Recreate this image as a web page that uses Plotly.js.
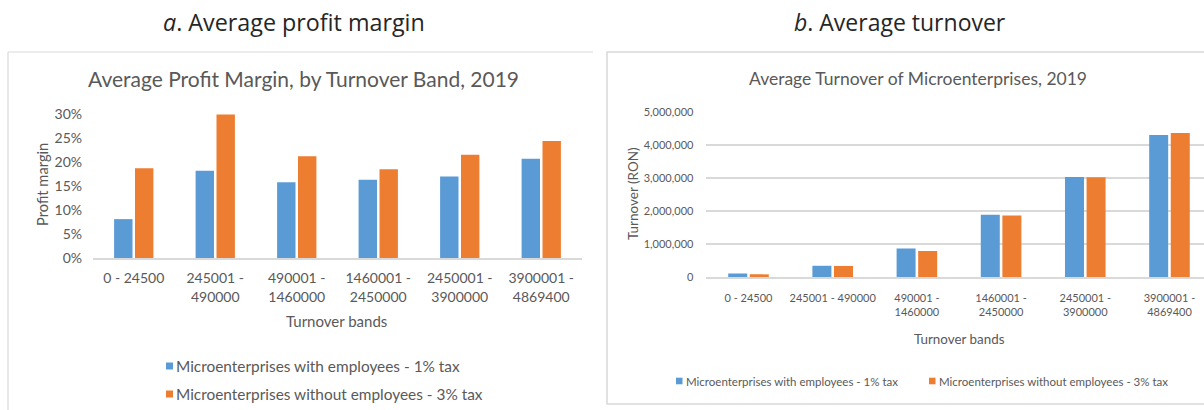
<!DOCTYPE html>
<html>
<head>
<meta charset="utf-8">
<script src="https://cdn.plot.ly/plotly-3.0.1.min.js"></script>
<style>
  html, body { margin: 0; padding: 0; background: #ffffff; }
  #chart { width: 1204px; height: 410px; }
</style>
</head>
<body>
<div id="chart"></div>
<script>
// ---------- data ----------
const bandsMargin = ["0 - 24500", "245001 -<br>490000", "490001 -<br>1460000", "1460001 -<br>2450000", "2450001 -<br>3900000", "3900001 -<br>4869400"];
const bandsTurnover = ["0 - 24500", "245001 - 490000", "490001 -<br>1460000", "1460001 -<br>2450000", "2450001 -<br>3900000", "3900001 -<br>4869400"];
const seriesNames = ["Microenterprises with employees - 1% tax", "Microenterprises without employees - 3% tax"];
const marginWithEmployees = [0.081, 0.182, 0.158, 0.163, 0.170, 0.207];
const marginWithoutEmployees = [0.187, 0.299, 0.212, 0.185, 0.215, 0.244];
const turnoverWithEmployees = [105000, 340000, 860000, 1890000, 3030000, 4300000];
const turnoverWithoutEmployees = [80000, 335000, 790000, 1860000, 3020000, 4360000];
const marginTicks = [0, 0.05, 0.10, 0.15, 0.20, 0.25, 0.30];
const turnoverTicks = [0, 1000000, 2000000, 3000000, 4000000, 5000000];

// ---------- layout helpers ----------
const W = 1204, H = 410;
const px = x => x / W;
const py = y => 1 - y / H;
const BLUE = "#5B9BD5", ORANGE = "#ED7D31";
const COLORS = [BLUE, ORANGE];
const GREY = "#595959", LINE = "#D9D9D9";
const FONT = "Lato, 'Open Sans', sans-serif";
const HFONT = "'Open Sans', Lato, sans-serif";

const idxM = bandsMargin.map((_, i) => i);
const idxT = bandsTurnover.map((_, i) => i);

const traces = [
  { type: "bar", x: idxM, y: marginWithEmployees, name: seriesNames[0], marker: { color: BLUE }, xaxis: "x", yaxis: "y", showlegend: false, hoverinfo: "skip" },
  { type: "bar", x: idxM, y: marginWithoutEmployees, name: seriesNames[1], marker: { color: ORANGE }, xaxis: "x", yaxis: "y", showlegend: false, hoverinfo: "skip" },
  { type: "bar", x: idxT, y: turnoverWithEmployees, name: seriesNames[0], marker: { color: BLUE }, xaxis: "x2", yaxis: "y2", showlegend: false, hoverinfo: "skip" },
  { type: "bar", x: idxT, y: turnoverWithoutEmployees, name: seriesNames[1], marker: { color: ORANGE }, xaxis: "x2", yaxis: "y2", showlegend: false, hoverinfo: "skip" }
];

// Excel-style legends: small square swatch + label
// left chart: stacked vertically; right chart: in one row
const legendLeft = { swatchX: 166, textX: 174, rows: [366, 394], size: 15.4 };
const legendRight = { swatchX: [676, 929], textX: [684, 937], row: 381, size: 11.5 };

const legendShapes = [];
const legendNotes = [];
seriesNames.forEach((name, i) => {
  const yl = legendLeft.rows[i];
  legendShapes.push({ type: "rect", xref: "paper", yref: "paper", x0: px(legendLeft.swatchX), x1: px(legendLeft.swatchX + 7), y0: py(yl + 3.5), y1: py(yl - 3.5), line: { width: 0 }, fillcolor: COLORS[i] });
  legendNotes.push({ text: name, xref: "paper", yref: "paper", x: px(legendLeft.textX), y: py(yl), xanchor: "left", yanchor: "middle", showarrow: false, font: { size: legendLeft.size, color: GREY, family: FONT } });
  const xr = legendRight.swatchX[i];
  legendShapes.push({ type: "rect", xref: "paper", yref: "paper", x0: px(xr), x1: px(xr + 6.5), y0: py(legendRight.row + 3.3), y1: py(legendRight.row - 3.3), line: { width: 0 }, fillcolor: COLORS[i] });
  legendNotes.push({ text: name, xref: "paper", yref: "paper", x: px(legendRight.textX[i]), y: py(legendRight.row), xanchor: "left", yanchor: "middle", showarrow: false, font: { size: legendRight.size, color: GREY, family: FONT } });
});

const layout = {
  width: W, height: H,
  margin: { l: 0, r: 0, t: 0, b: 0, pad: 0 },
  paper_bgcolor: "#ffffff", plot_bgcolor: "rgba(0,0,0,0)",
  font: { family: FONT, color: GREY },
  barmode: "group", bargap: 0.487, bargroupgap: 0.12,
  showlegend: false,
  xaxis: {
    domain: [px(93), px(582)], anchor: "y",
    range: [-0.5, 5.5], tickmode: "array", tickvals: idxM, ticktext: bandsMargin,
    showline: true, linecolor: LINE, linewidth: 1.5, showgrid: false, zeroline: false,
    ticks: "", ticklabelstandoff: 7, tickfont: { size: 14, color: GREY, family: FONT }
  },
  yaxis: {
    domain: [py(258), py(114)], anchor: "x",
    range: [0, 0.30], tickmode: "array", tickvals: marginTicks, tickformat: ".0%",
    showline: false, showgrid: false, zeroline: false, ticks: "",
    ticklabelstandoff: 10,
    tickfont: { size: 14, color: GREY, family: FONT }
  },
  xaxis2: {
    domain: [px(706.4), 1], anchor: "y2",
    range: [-0.5, 5.41], tickmode: "array", tickvals: idxT, ticktext: bandsTurnover,
    showline: true, linecolor: LINE, linewidth: 1.5, showgrid: false, zeroline: false,
    ticks: "", ticklabelstandoff: 10, tickfont: { size: 11, color: GREY, family: FONT }
  },
  yaxis2: {
    domain: [py(277), py(112)], anchor: "x2",
    range: [0, 5000000], tickmode: "array", tickvals: turnoverTicks, tickformat: ",d",
    showline: false, showgrid: true, gridcolor: LINE, gridwidth: 1.5, zeroline: false, ticks: "",
    ticklabelstandoff: 12,
    tickfont: { size: 11, color: GREY, family: FONT }
  },
  shapes: [
    { type: "line", xref: "paper", yref: "paper", x0: px(8), x1: px(8), y0: py(415), y1: py(52), line: { color: LINE, width: 1.2 } },
    { type: "line", xref: "paper", yref: "paper", x0: px(8), x1: px(593), y0: py(52), y1: py(52), line: { color: LINE, width: 1.2 } },
    { type: "rect", xref: "paper", yref: "paper", x0: px(607), x1: px(1215), y0: py(404), y1: py(52), line: { color: LINE, width: 1.5 }, fillcolor: "rgba(0,0,0,0)" }
  ].concat(legendShapes),
  annotations: [
    { text: "<i>a</i>. Average profit margin", xref: "paper", yref: "paper", x: px(293.5), y: py(22), xanchor: "center", yanchor: "middle", showarrow: false, font: { size: 23.3, color: "#262626", family: HFONT } },
    { text: "<i>b</i>. Average turnover", xref: "paper", yref: "paper", x: px(900), y: py(22), xanchor: "center", yanchor: "middle", showarrow: false, font: { size: 23, color: "#262626", family: HFONT } },
    { text: "Average Profit Margin, by Turnover Band, 2019", xref: "paper", yref: "paper", x: px(303.5), y: py(79), xanchor: "center", yanchor: "middle", showarrow: false, font: { size: 21, color: GREY, family: FONT } },
    { text: "Average Turnover of Microenterprises, 2019", xref: "paper", yref: "paper", x: px(917.5), y: py(79), xanchor: "center", yanchor: "middle", showarrow: false, font: { size: 17.5, color: GREY, family: FONT } },
    { text: "Profit margin", xref: "paper", yref: "paper", x: px(42), y: py(185), xanchor: "center", yanchor: "middle", textangle: -90, showarrow: false, font: { size: 14.7, color: GREY, family: FONT } },
    { text: "Turnover (RON)", xref: "paper", yref: "paper", x: px(633), y: py(194), xanchor: "center", yanchor: "middle", textangle: -90, showarrow: false, font: { size: 13.5, color: GREY, family: FONT } },
    { text: "Turnover bands", xref: "paper", yref: "paper", x: px(337), y: py(321), xanchor: "center", yanchor: "middle", showarrow: false, font: { size: 15, color: GREY, family: FONT } },
    { text: "Turnover bands", xref: "paper", yref: "paper", x: px(959), y: py(339), xanchor: "center", yanchor: "middle", showarrow: false, font: { size: 13.4, color: GREY, family: FONT } }
  ].concat(legendNotes)
};

Plotly.newPlot("chart", traces, layout, { staticPlot: true, displayModeBar: false });
</script>
</body>
</html>
